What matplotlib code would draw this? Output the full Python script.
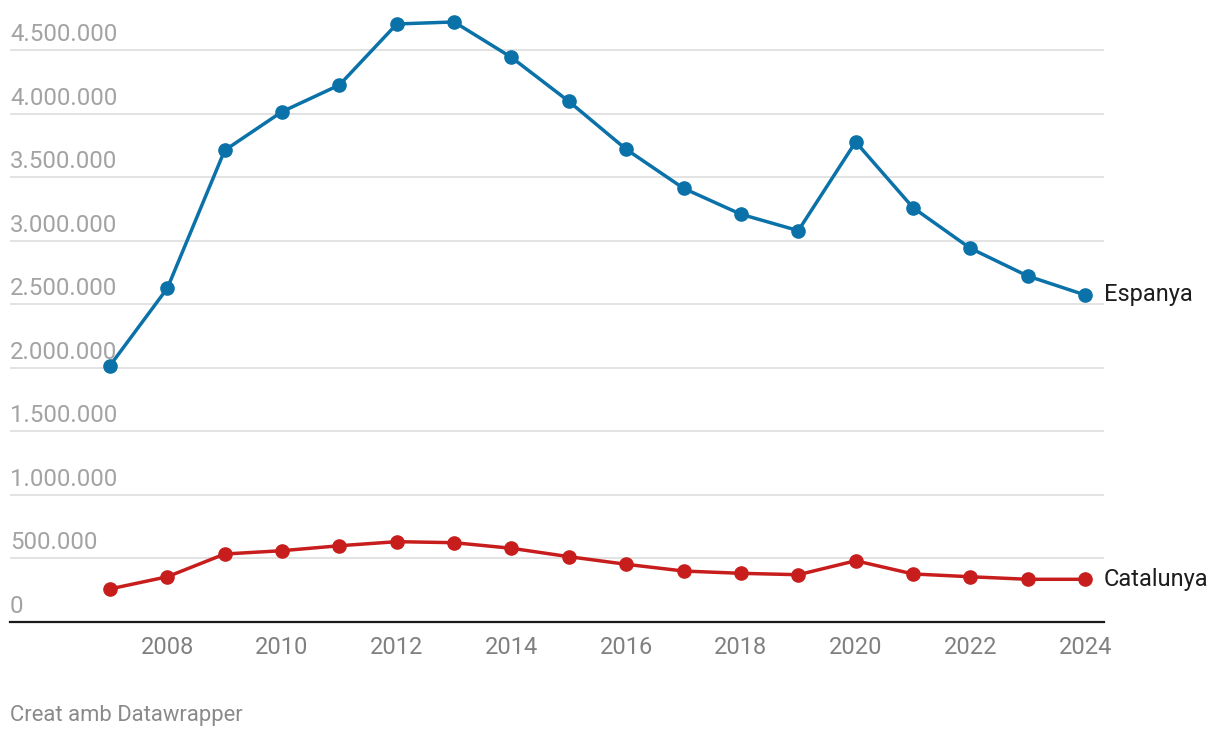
import matplotlib
matplotlib.use("Agg")
import matplotlib.pyplot as plt
import matplotlib.transforms as mtransforms

years = list(range(2007, 2025))
espanya = [2017000, 2626000, 3711000, 4015000, 4225000, 4705000, 4721000, 4442000,
           4096000, 3719000, 3412000, 3208000, 3079000, 3777000, 3260000, 2940000,
           2722000, 2573000]
catalunya = [260000, 356000, 535000, 561000, 600000, 632000, 624000, 580000,
             514000, 454000, 401000, 383000, 372000, 482000, 378000, 356000,
             336000, 336000]
ytick_vals = [0, 500000, 1000000, 1500000, 2000000, 2500000, 3000000, 3500000, 4000000, 4500000]
xtick_vals = [2008, 2010, 2012, 2014, 2016, 2018, 2020, 2022, 2024]
series_names = ["Espanya", "Catalunya"]

plt.rcParams['font.family'] = ['Roboto', 'DejaVu Sans']

W, H = 1220, 738
fig = plt.figure(figsize=(W / 100, H / 100), dpi=100)
left, right, bottom, top = 10, 1104, 622, 10
ax = fig.add_axes([left / W, (H - bottom) / H, (right - left) / W, (bottom - top) / H])

ax.set_xlim(2005.257, 2024.33)
ax.set_ylim(0, 4815000)

for s in ax.spines.values():
    s.set_visible(False)
ax.set_xticks([])
ax.set_yticks([])

for v in ytick_vals:
    if v == 0:
        ax.axhline(0, color='#1a1a1a', lw=1.6, zorder=2, clip_on=False)
    else:
        ax.axhline(v, color='#e3e3e3', lw=1.4, zorder=1)
    lbl = f"{v:,}".replace(",", ".")
    off = mtransforms.offset_copy(ax.get_yaxis_transform(), fig=fig, x=0, y=9, units='dots')
    ax.text(0, v, lbl, transform=off, ha='left', va='baseline', fontsize=17.3,
            color='#a3a3a3')

xt = mtransforms.offset_copy(ax.get_xaxis_transform(), fig=fig, x=0, y=-26, units='dots')
for yv in xtick_vals:
    ax.text(yv, 0, str(yv), transform=xt, ha='center', va='center', fontsize=17,
            color='#808080')

blue = '#0a72a8'
red = '#c71e1d'
ax.plot(years, espanya, color=blue, lw=2.5, marker='o', markersize=9.5, zorder=4, clip_on=False)
ax.plot(years, catalunya, color=red, lw=2.5, marker='o', markersize=9.5, zorder=4, clip_on=False)

lt = mtransforms.offset_copy(ax.transData, fig=fig, x=19, y=0, units='dots')
ax.text(years[-1], espanya[-1], series_names[0], transform=lt, ha='left', va='center',
        fontsize=17, color='#1d1d1d')
ax.text(years[-1], catalunya[-1], series_names[1], transform=lt, ha='left', va='center',
        fontsize=17, color='#1d1d1d')

fig.text(10 / W, 1 - 715 / H, "Creat amb Datawrapper", ha='left', va='center',
         fontsize=15.8, color='#8a8a8a')

fig.savefig("out.png", dpi=100, facecolor='white')
